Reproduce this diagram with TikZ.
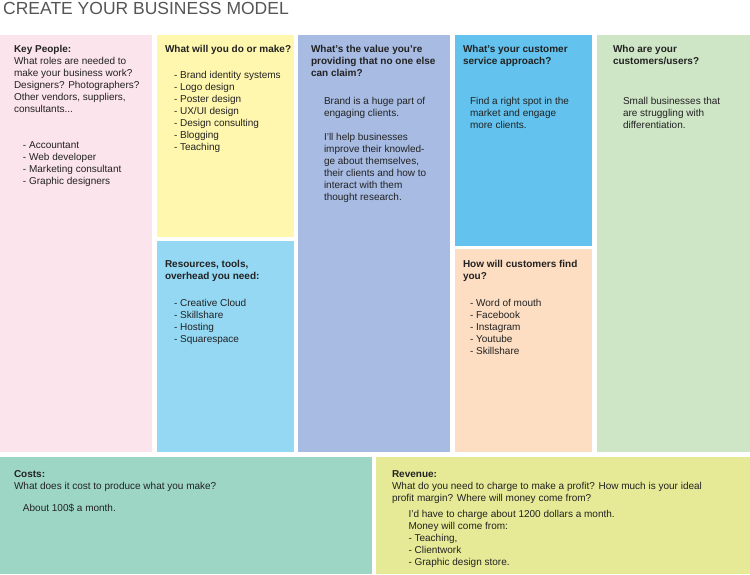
\documentclass[tikz,border=0pt]{standalone}
\usepackage{fontspec}
\setmainfont{Liberation Sans}
\definecolor{cPink}{HTML}{FCE4EC}
\definecolor{cYellow}{HTML}{FFF7AE}
\definecolor{cLightBlue}{HTML}{94D8F4}
\definecolor{cLavender}{HTML}{A7BBE3}
\definecolor{cSky}{HTML}{63C3EE}
\definecolor{cPeach}{HTML}{FDDEC2}
\definecolor{cGreen}{HTML}{CEE5C6}
\definecolor{cTeal}{HTML}{9DD6C5}
\definecolor{cLime}{HTML}{E6EA97}
\definecolor{cTitle}{HTML}{555555}
\definecolor{cText}{HTML}{222222}
\tikzset{
  panel/.style={anchor=north west, inner sep=0pt, outer sep=0pt, draw=none, fill=#1},
  txt/.style={anchor=base west, align=left, inner sep=0pt, outer sep=0pt, text=cText, font=\fontsize{10}{12}\selectfont},
  title/.style={anchor=base west, inner sep=0pt, text=cTitle, font=\fontsize{17.5}{20}\selectfont}
}
\begin{document}
\begin{tikzpicture}[x=1pt,y=-1pt]
\useasboundingbox[fill=white] (0,0) rectangle (750,574);
% panels
\node[panel=cPink, minimum width=152pt, minimum height=417pt] (people) at (0,35) {};
\node[panel=cYellow, minimum width=137pt, minimum height=202pt] (make) at (157,35) {};
\node[panel=cLightBlue, minimum width=137pt, minimum height=211pt] (resources) at (157,241) {};
\node[panel=cLavender, minimum width=152pt, minimum height=417pt] (value) at (298,35) {};
\node[panel=cSky, minimum width=137pt, minimum height=211pt] (service) at (455,35) {};
\node[panel=cPeach, minimum width=137pt, minimum height=203pt] (find) at (455,249) {};
\node[panel=cGreen, minimum width=153pt, minimum height=417pt] (customers) at (597,35) {};
\node[panel=cTeal, minimum width=372pt, minimum height=117pt] (costs) at (0,457) {};
\node[panel=cLime, minimum width=374pt, minimum height=117pt] (revenue) at (376,457) {};
% title
\node[title] (ttl) at (3,14.7) {CREATE YOUR BUSINESS MODEL};
% key people (anchor = baseline of last line)
\node[txt] (peopleQ) at (14,112) {\textbf{Key People:}\\What roles are needed to\\make your business work?\\Designers? Photographers?\\Other vendors, suppliers,\\consultants...};
\node[txt] (peopleA) at (23,184) {- Accountant\\- Web developer\\- Marketing consultant\\- Graphic designers};
% make
\node[txt] (makeQ) at (165,52) {\textbf{What will you do or make?}};
\node[txt] (makeA) at (174,150.5) {- Brand identity systems\\- Logo design\\- Poster design\\- UX/UI design\\- Design consulting\\- Blogging\\- Teaching};
% resources
\node[txt] (resQ) at (165,279) {\textbf{Resources, tools,}\\\textbf{overhead you need:}};
\node[txt] (resA) at (174,342) {- Creative Cloud\\- Skillshare\\- Hosting\\- Squarespace};
% value
\node[txt] (valueQ) at (311,76) {\textbf{What's the value you're}\\\textbf{providing that no one else}\\\textbf{can claim?}};
\node[txt] (valueA) at (324,200) {Brand is a huge part of\\engaging clients.\\[12pt]I'll help businesses\\improve their knowled-\\ge about themselves,\\their clients and how to\\interact with them\\thought research.};
% service
\node[txt] (serviceQ) at (463,64) {\textbf{What's your customer}\\\textbf{service approach?}};
\node[txt] (serviceA) at (470,128) {Find a right spot in the\\market and engage\\more clients.};
% find
\node[txt] (findQ) at (463,279) {\textbf{How will customers find}\\\textbf{you?}};
\node[txt] (findA) at (470,354) {- Word of mouth\\- Facebook\\- Instagram\\- Youtube\\- Skillshare};
% customers
\node[txt] (custQ) at (613,64) {\textbf{Who are your}\\\textbf{customers/users?}};
\node[txt] (custA) at (623,128.5) {Small businesses that\\are struggling with\\differentiation.};
% costs
\node[txt] (costsQ) at (14,489.5) {\textbf{Costs:}\\What does it cost to produce what you make?};
\node[txt] (costsA) at (23,511.5) {About 100\$ a month.};
% revenue
\node[txt] (revQ) at (392,501.5) {\textbf{Revenue:}\\What do you need to charge to make a profit? How much is your ideal\\profit margin? Where will money come from?};
\node[txt] (revA) at (408.5,565.5) {I'd have to charge about 1200 dollars a month.\\Money will come from:\\- Teaching,\\- Clientwork\\- Graphic design store.};
\end{tikzpicture}
\end{document}
